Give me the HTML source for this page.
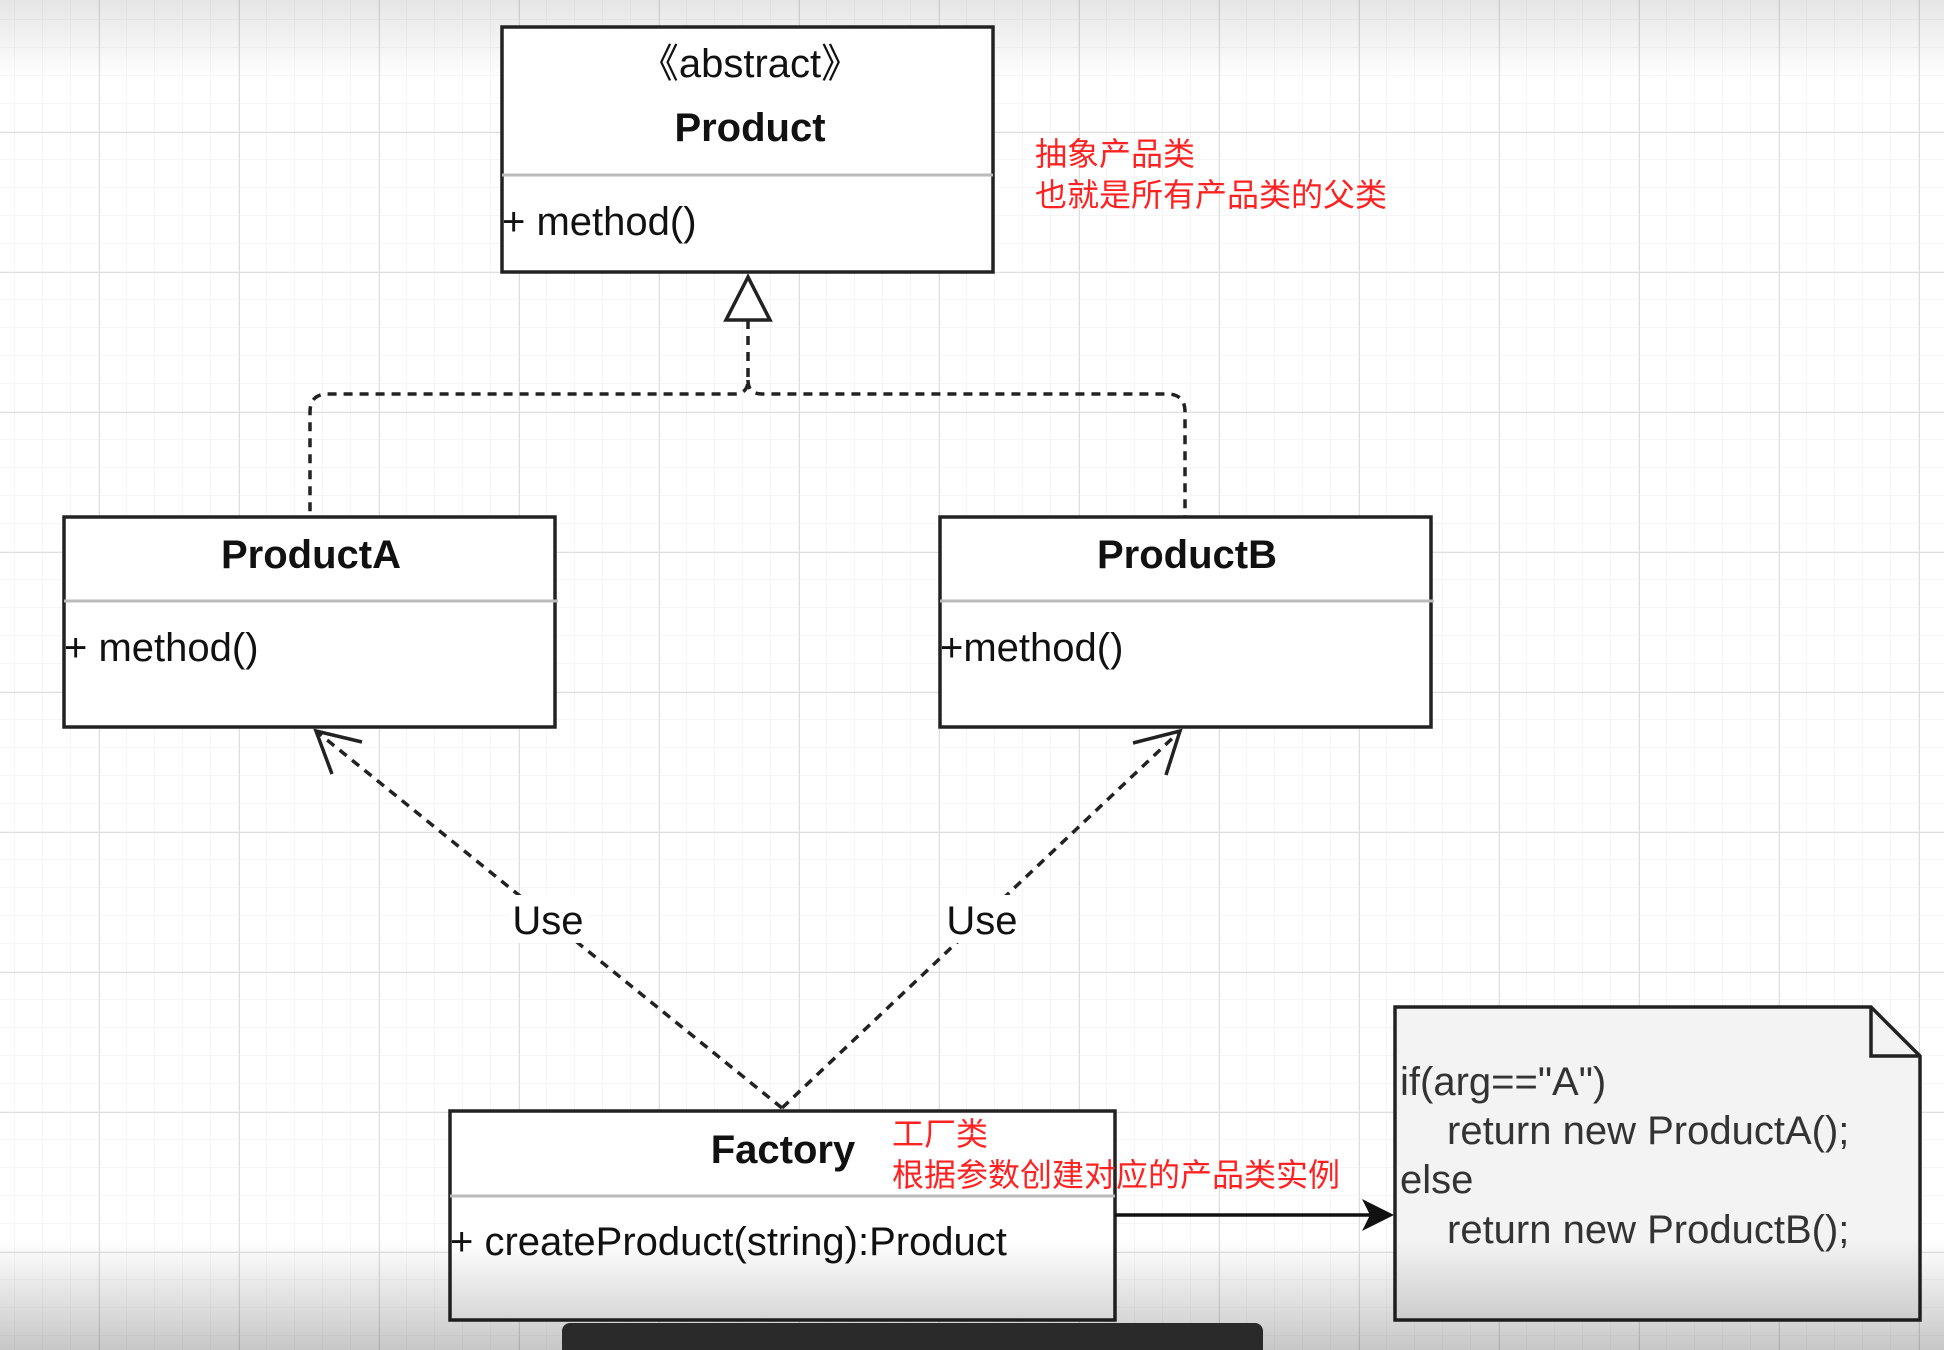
<!DOCTYPE html>
<html><head><meta charset="utf-8"><style>
html,body{margin:0;padding:0;}
body{width:1944px;height:1350px;overflow:hidden;position:relative;background:#fff;font-family:"Liberation Sans","Noto Sans CJK SC",sans-serif;}
svg{position:absolute;left:0;top:0;}
</style></head><body>
<svg width="1944" height="1350" viewBox="0 0 1944 1350" xmlns="http://www.w3.org/2000/svg">
<defs>
<pattern id="minor" width="28" height="28" patternUnits="userSpaceOnUse" x="15" y="20">
<path d="M28 0V28M0 28H28" stroke="#f4f4f4" stroke-width="1.5" fill="none"/>
</pattern>
<pattern id="major" width="140" height="140" patternUnits="userSpaceOnUse" x="99" y="132">
<path d="M0 0V140M0 0H140" stroke="#dedede" stroke-width="2" fill="none"/>
</pattern>
<linearGradient id="top" x1="0" y1="0" x2="0" y2="1">
<stop offset="0" stop-color="#000" stop-opacity="0.1"/><stop offset="1" stop-color="#000" stop-opacity="0"/>
</linearGradient>
<linearGradient id="bot" x1="0" y1="0" x2="0" y2="1">
<stop offset="0" stop-color="#000" stop-opacity="0"/><stop offset="1" stop-color="#000" stop-opacity="0.22"/>
</linearGradient>
</defs>
<rect width="1944" height="1350" fill="url(#minor)"/>
<rect width="1944" height="1350" fill="url(#major)"/>
<rect width="1944" height="80" fill="url(#top)"/>

<g font-size="40" fill="#111" text-anchor="middle">
<rect x="502" y="27" width="491" height="245" fill="#fff" stroke="#222" stroke-width="3.5"/>
<line x1="502" y1="175" x2="993" y2="175" stroke="#bbb" stroke-width="3"/>
<text x="750" y="77">《abstract》</text>
<text x="750" y="141" font-weight="bold">Product</text>
<text x="502" y="235" text-anchor="start">+ method()</text>

<rect x="64" y="517" width="491" height="210" fill="#fff" stroke="#222" stroke-width="3.5"/>
<line x1="64" y1="601" x2="558" y2="601" stroke="#bbb" stroke-width="3"/>
<text x="311" y="568" font-weight="bold">ProductA</text>
<text x="64" y="661" text-anchor="start">+ method()</text>

<rect x="940" y="517" width="491" height="210" fill="#fff" stroke="#222" stroke-width="3.5"/>
<line x1="940" y1="601" x2="1434" y2="601" stroke="#bbb" stroke-width="3"/>
<text x="1187" y="568" font-weight="bold">ProductB</text>
<text x="940" y="661" text-anchor="start">+method()</text>

<rect x="450" y="1111" width="665" height="209" fill="#fff" stroke="#222" stroke-width="3.5"/>
<line x1="450" y1="1196" x2="1115" y2="1196" stroke="#bbb" stroke-width="3"/>
<text x="783" y="1163" font-weight="bold">Factory</text>
<text x="450" y="1255" text-anchor="start">+ createProduct(string):Product</text>

<path d="M1395 1007 H1871 L1920 1056 V1320 H1395 Z" fill="#f3f3f3" stroke="#222" stroke-width="3.5"/>
<path d="M1871 1007 V1056 H1920" fill="none" stroke="#222" stroke-width="3.5"/>
<g text-anchor="start" fill="#333" font-size="40">
<text x="1400" y="1095">if(arg=="A")</text>
<text x="1447" y="1144">return new ProductA();</text>
<text x="1400" y="1193">else</text>
<text x="1447" y="1243">return new ProductB();</text>
</g>
</g>

<polygon points="748,277 726,320 770,320" fill="#fff" stroke="#222" stroke-width="3.5"/>
<path d="M748 320 V380 Q748 394 734 394 H328 Q310 394 310 412 V516 M748 380 Q748 394 762 394 H1167 Q1185 394 1185 412 V516" fill="none" stroke="#222" stroke-width="3.5" stroke-dasharray="9,7"/>

<path d="M782 1108 L316 731" fill="none" stroke="#222" stroke-width="3.5" stroke-dasharray="9,7"/>
<path d="M782 1108 L1180 731" fill="none" stroke="#222" stroke-width="3.5" stroke-dasharray="9,7"/>
<path d="M362 742 L316 731 L332 774" fill="none" stroke="#222" stroke-width="3.5"/>
<path d="M1133 743 L1180 731 L1166 775" fill="none" stroke="#222" stroke-width="3.5"/>
<rect x="510" y="895" width="78" height="48" fill="#fff"/>
<rect x="944" y="895" width="78" height="48" fill="#fff"/>
<text x="548" y="934" font-size="40" text-anchor="middle" fill="#111">Use</text>
<text x="982" y="934" font-size="40" text-anchor="middle" fill="#111">Use</text>

<line x1="1115" y1="1215" x2="1370" y2="1215" stroke="#111" stroke-width="3.5"/>
<polygon points="1394,1215 1362,1199 1370,1215 1362,1231" fill="#111"/>

<g fill="#f22" font-size="32">
<text x="1035" y="165">抽象产品类</text>
<text x="1035" y="206">也就是所有产品类的父类</text>
<text x="892" y="1145">工厂类</text>
<text x="892" y="1186">根据参数创建对应的产品类实例</text>
</g>

<rect y="1240" width="1944" height="110" fill="url(#bot)"/>
<rect x="562" y="1323" width="701" height="40" rx="8" fill="#2a2a2a"/>
</svg>
</body></html>
